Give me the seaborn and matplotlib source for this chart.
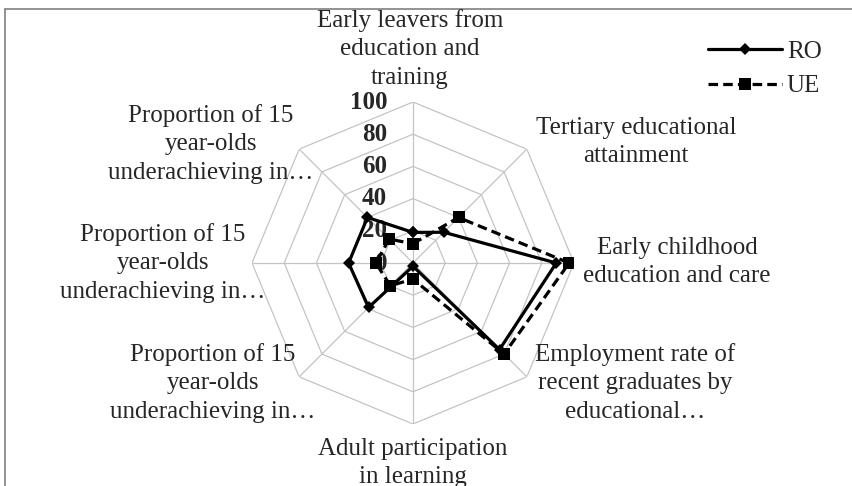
import numpy as np
import pandas as pd
import matplotlib.pyplot as plt
import seaborn as sns
from matplotlib import transforms
from matplotlib.lines import Line2D

# Data
categories = [
    'Early leavers from\neducation and\ntraining',
    'Tertiary educational\nattainment',
    'Early childhood\neducation and care',
    'Employment rate of\nrecent graduates by\neducational…',
    'Adult participation\nin learning',
    'Proportion of 15\nyear-olds\nunderachieving in…',
    'Proportion of 15\nyear-olds\nunderachieving in…',
    'Proportion of 15\nyear-olds\nunderachieving in…',
]
ro = [19, 27, 89, 76, 2, 39, 40, 40]
ue = [12, 40, 97, 80, 10, 20, 23, 21]
ticks = [0, 20, 40, 60, 80, 100]

sns.set_style('white')
plt.rcParams['font.family'] = ['Liberation Serif', 'DejaVu Serif']
plt.rcParams['font.size'] = 18

W, H = 853, 486
fig = plt.figure(figsize=(W / 100, H / 100), dpi=100)

# polar axes centred at (413, 263) px, radius 161 px
cx, cy, R = 413, 263, 161
ax = fig.add_axes([(cx - R) / W, (H - cy - R) / H, 2 * R / W, 2 * R / H], projection='polar')
ax.set_theta_zero_location('N')
ax.set_theta_direction(-1)

n = len(categories)
angles = np.linspace(0, 2 * np.pi, n, endpoint=False)
closed = np.r_[angles, 2 * np.pi]

# octagonal grid
grid_col = '#c4c4c4'
for t in ticks[1:]:
    ax.plot(closed, [t] * (n + 1), color=grid_col, lw=0.9, zorder=0)
for a in angles:
    ax.plot([a, a], [0, 100], color=grid_col, lw=0.9, zorder=0)

df = pd.DataFrame({'angle': closed, 'RO': ro + ro[:1], 'UE': ue + ue[:1]})
sns.lineplot(data=df, x='angle', y='RO', ax=ax, sort=False, estimator=None,
             color='black', lw=2.3, marker='D', markersize=6.5, markeredgewidth=0,
             label='RO', zorder=4)
sns.lineplot(data=df, x='angle', y='UE', ax=ax, sort=False, estimator=None,
             color='black', lw=2.3, linestyle=(0, (3, 1.6)), marker='s', markersize=8.5,
             markeredgewidth=0, label='UE', zorder=3)

ax.set_ylim(0, 100)
ax.set_xticks([])
ax.set_yticks([])
ax.grid(False)
ax.spines['polar'].set_visible(False)
ax.set_xlabel('')
ax.set_ylabel('')
ax.patch.set_alpha(0)

# radial tick labels, left of the top spoke
off = transforms.offset_copy(ax.transData, fig=fig, x=-26, y=0, units='dots')
for t in ticks:
    ax.text(0, t, str(t), transform=off, ha='right', va='center',
            fontweight='bold', fontsize=18, zorder=2)

# category labels
label_pos = [(410, 49), (636, 142), (677, 262), (635, 383),
             (413, 463), (213, 383), (163, 263), (211, 144)]
for lab, (x, y) in zip(categories, label_pos):
    fig.text(x / W, 1 - y / H, lab, ha='center', va='center', fontsize=18,
             linespacing=1.36)

leg = ax.legend(loc='upper left', bbox_to_anchor=(708 / W, 1 - 40 / H),
                bbox_transform=fig.transFigure, frameon=False, fontsize=18,
                handlelength=2.95, handletextpad=0.2, labelspacing=0.5,
                borderpad=0, borderaxespad=0)

# image frame (cropped on the right and bottom)
fig.add_artist(Line2D([5 / W, 5 / W], [0, 1 - 9 / H], color='#808080', lw=1.2))
fig.add_artist(Line2D([5 / W, 1], [1 - 9 / H, 1 - 9 / H], color='#808080', lw=1.2))

plt.savefig('out.png', dpi=100)
